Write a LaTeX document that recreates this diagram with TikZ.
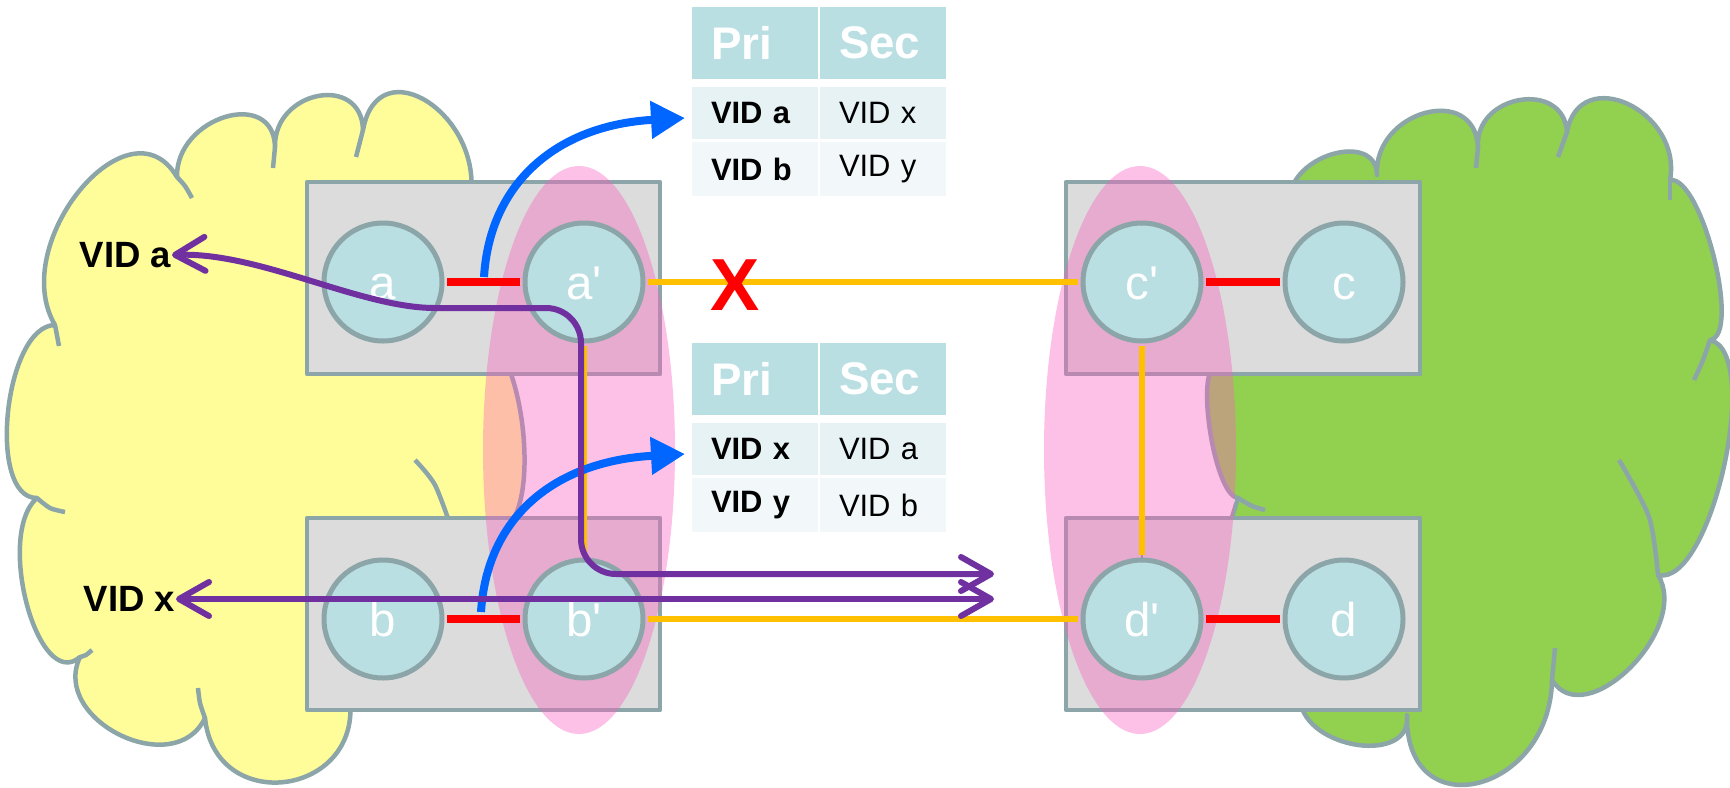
\documentclass[tikz,border=0pt]{standalone}
\usepackage{fontspec}
\setmainfont{Liberation Sans}
\usetikzlibrary{arrows.meta,calc}

\definecolor{cloudY}{RGB}{255,253,153}
\definecolor{cloudG}{RGB}{146,208,80}
\definecolor{edgeC}{RGB}{140,165,168}
\definecolor{boxC}{RGB}{220,220,220}
\definecolor{portC}{RGB}{185,223,227}
\definecolor{pinkC}{RGB}{250,98,192}
\definecolor{linkO}{RGB}{255,192,0}
\definecolor{linkR}{RGB}{255,0,0}
\definecolor{vlanP}{RGB}{112,48,160}
\definecolor{lookB}{RGB}{0,102,255}
\definecolor{rowA}{RGB}{230,242,244}
\definecolor{rowB}{RGB}{242,248,250}

% one cloud bump: from #1 over #2 to #3
\newcommand{\bmp}[3]{.. controls ($0.3333*(#1)+1.3333*(#2)-0.6667*(#3)$)
  and ($0.3333*(#3)+1.3333*(#2)-0.6667*(#1)$) .. (#3)}

\begin{document}
\begin{tikzpicture}[x=0.1mm, y=-0.1mm, line join=round,
    cloud/.style={draw=edgeC, line width=0.45mm},
    bridge/.style={draw=edgeC, line width=0.45mm, fill=boxC},
    port/.style={circle, draw=edgeC, line width=0.5mm, fill=portC, minimum size=11.8mm,
      inner sep=0pt, text=white, text height=3.5mm, text depth=0pt,
      font=\fontsize{13.5}{16}\selectfont},
    shade/.style={preaction={draw=black, opacity=0.2, transform canvas={yshift=-0.25mm}}},
    redlink/.style={shade, draw=linkR, line width=0.8mm, shorten <=0.25mm, shorten >=0.25mm},
    orglink/.style={shade, draw=linkO, line width=0.65mm, shorten <=0.25mm, shorten >=0.25mm},
    vlan/.style={draw=vlanP, line width=0.6mm, line cap=round,
      >={Straight Barb[length=3mm,width=3.4mm,round]}, <->},
    lookup/.style={draw=lookB, line width=0.8mm, arrows={-Triangle[length=3.4mm,width=3.6mm]}},
    vid/.style={font=\bfseries\fontsize{10.4}{12}\selectfont, inner sep=0pt, anchor=east},
    cell/.style={rectangle, inner xsep=1.9mm, inner ysep=0pt, text width=8.8mm, align=left},
    hdr/.style={cell, fill=portC, minimum height=7.2mm, text=white,
      font=\bfseries\fontsize{13}{15}\selectfont},
    rowa/.style={cell, fill=rowA, minimum height=5.2mm},
    rowb/.style={cell, fill=rowB, minimum height=5.4mm},
    pkey/.style={font=\bfseries\fontsize{8.8}{10}\selectfont},
    skey/.style={font=\fontsize{8.8}{10}\selectfont}
  ]
  \useasboundingbox (0,0) rectangle (1730,787);

  % left cloud
  \filldraw[cloud, fill=cloudY] (37,498)
    \bmp{37,498}{8,412}{55,325}
    \bmp{55,325}{80,190}{177,177}
    \bmp{177,177}{225,117}{275,147}
    \bmp{275,147}{318,96}{363,130}
    \bmp{363,130}{428,102}{470,200}
    -- (482,330)
    \bmp{486,365}{524,440}{500,530}
    -- (430,650) -- (350,700)
    \bmp{350,700}{285,782}{205,718}
    \bmp{205,718}{120,735}{80,657}
    \bmp{80,657}{27,605}{37,498}
    -- cycle;
  \draw[cloud] plot[smooth] coordinates {(37,498) (50,508) (65,512)};
  \draw[cloud] (55,325) -- (59,346);
  \draw[cloud] plot[smooth] coordinates {(177,177) (185,186) (192,198)};
  \draw[cloud] (275,147) -- (273,168);
  \draw[cloud] (363,130) -- (356,157);
  \draw[cloud] plot[smooth] coordinates {(205,718) (200,703) (198,688)};
  \draw[cloud] plot[smooth] coordinates {(80,657) (86,655) (92,650)};
  \draw[cloud] plot[smooth] coordinates {(415,460) (435,485) (452,530)};

  % right cloud
  \filldraw[cloud, fill=cloudG] (1290,240) -- (1290,200)
    \bmp{1290,200}{1333,154}{1377,175}
    \bmp{1377,175}{1425,113}{1478,147}
    \bmp{1478,147}{1520,100}{1567,132}
    \bmp{1567,132}{1628,104}{1670,180}
    \bmp{1670,180}{1714,257}{1710,340}
    \bmp{1710,340}{1724,467}{1658,575}
    \bmp{1658,575}{1630,668}{1552,680}
    \bmp{1552,680}{1478,783}{1407,715}
    \bmp{1407,715}{1358,745}{1300,700}
    -- (1240,600) -- (1228,530) -- (1238,498)
    \bmp{1238,498}{1210,430}{1218,365}
    -- cycle;
  \draw[cloud] (1478,147) -- (1476,168);
  \draw[cloud] (1567,132) -- (1558,157);
  \draw[cloud] (1670,180) -- (1670,200);
  \draw[cloud] plot[smooth] coordinates {(1710,340) (1703,360) (1694,380)};
  \draw[cloud] plot[smooth] coordinates {(1658,575) (1649,517) (1619,460)};
  \draw[cloud] (1552,680) -- (1555,648);
  \draw[cloud] plot[smooth] coordinates {(1238,498) (1252,506) (1265,510)};

  % bridges
  \draw[bridge] (307,182) rectangle (660,374);
  \draw[bridge] (307,518) rectangle (660,710);
  \draw[bridge] (1066,182) rectangle (1420,374);
  \draw[bridge] (1066,518) rectangle (1420,710);

  % portal groups
  \fill[pinkC, opacity=0.4] (579,450) ellipse (96 and 284);
  \fill[pinkC, opacity=0.4] (1140,450) ellipse (96 and 284);

  \node[port] (a)  at (383,282)  {a};
  \node[port] (ap) at (584,282)  {a\textquotesingle};
  \node[port] (b)  at (383,619)  {b};
  \node[port] (bp) at (584,619)  {b\textquotesingle};
  \node[port] (cp) at (1142,282) {c\textquotesingle};
  \node[port] (c)  at (1344,282) {c};
  \node[port] (dp) at (1142,619) {d\textquotesingle};
  \node[port] (d)  at (1344,619) {d};

  \draw[redlink] (a) -- (ap);
  \draw[redlink] (b) -- (bp);
  \draw[redlink] (cp) -- (c);
  \draw[redlink] (dp) -- (d);
  \draw[orglink] (ap) -- (cp);
  \draw[orglink] (bp) -- (dp);
  \draw[orglink] (ap) -- (bp);
  \draw[orglink] (cp) -- (dp);

  \node[font=\bfseries\fontsize{21}{24}\selectfont, text=linkR, inner sep=0pt] (cut) at (735,285) {X};

  % tables
  \node[hdr] (pri1) at (755,43) {Pri};
  \node[hdr] (sec1) at (883,43) {Sec};
  \node[rowa, pkey] (p1a) at (755,113) {VID a};
  \node[rowa, skey] (s1a) at (883,113) {VID x};
  \node[rowb, pkey] (p1b) at (755,169) {VID b};
  \node[rowb, skey] (s1b) at (883,169) {VID y};

  \node[hdr] (pri2) at (755,379) {Pri};
  \node[hdr] (sec2) at (883,379) {Sec};
  \node[rowa, pkey] (p2a) at (755,449) {VID x};
  \node[rowa, skey] (s2a) at (883,449) {VID a};
  \node[rowb, pkey] (p2b) at (755,505) {VID y};
  \node[rowb, skey] (s2b) at (883,505) {VID b};

  % lookups
  \coordinate (sA) at (484,277);
  \coordinate (tA) at (685,118);
  \coordinate (sX) at (481,612);
  \coordinate (tX) at (685,454);
  \draw[lookup] (sA) .. controls (490,180) and (560,125) .. (tA);
  \draw[lookup] (sX) .. controls (487,515) and (557,461) .. (tX);

  % vlan paths
  \node[vid] (va) at (172,255) {VID a};
  \node[vid] (vx) at (176,599) {VID x};
  \coordinate (eA) at (994,574);
  \coordinate (eX) at (994,599);
  \draw[vlan, rounded corners=3.5mm] (va.east) .. controls (260,252) and (360,308) .. (470,308)
    -- (581,308) -- (581,574) -- (eA);
  \draw[vlan] (vx.east) -- (eX);
\end{tikzpicture}
\end{document}
